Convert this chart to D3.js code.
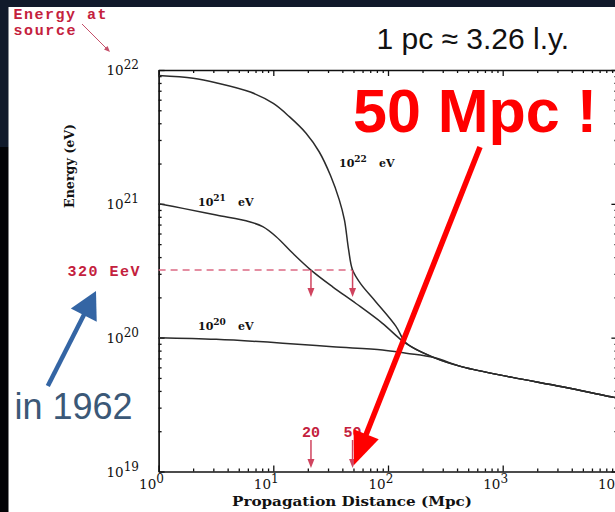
<!DOCTYPE html>
<html><head><meta charset="utf-8">
<script src="https://cdn.jsdelivr.net/npm/d3@7"></script>
<style>html,body{margin:0;padding:0;background:#111a2b;overflow:hidden}</style>
</head><body>
<svg id="c" width="615" height="512"></svg>
<script>
// ---- data ----
const distance22 = [1, 2.0, 3.16, 6.31, 10, 13.8, 19.3, 25.1, 31.6, 37.6, 41.7, 45.3, 49.1, 58.1, 78.5, 117, 144, 252, 445, 1213, 3304, 9333, 10000];
const energy22   = [9.08e21, 8.67e21, 8.04e21, 6.84e21, 5.62e21, 4.48e21, 3.37e21, 2.45e21, 1.62e21, 1.07e21, 7.59e20, 4.57e20, 3.20e20, 2.51e20, 1.85e20, 1.22e20, 9.12e19, 7.10e19, 6.05e19, 5.05e19, 4.30e19, 3.58e19, 3.55e19];
const distance21 = [1, 1.63, 3.18, 6.19, 8.09, 10.6, 14.8, 21.3, 32.9, 52.6, 89.5, 144, 252, 445, 1213, 3304, 9333, 10000];
const energy21   = [1.0e21, 9.25e20, 8.24e20, 7.35e20, 6.75e20, 5.68e20, 4.27e20, 3.20e20, 2.40e20, 1.80e20, 1.28e20, 9.02e19, 7.10e19, 6.05e19, 5.05e19, 4.30e19, 3.58e19, 3.55e19];
const distance20 = [1, 3.18, 12.1, 32.9, 89.5, 144, 252, 445, 1213, 3304, 9333, 10000];
const energy20   = [1.0e20, 9.72e19, 9.10e19, 8.55e19, 8.10e19, 7.65e19, 7.10e19, 6.05e19, 5.05e19, 4.30e19, 3.58e19, 3.55e19];
const curveExponents = ["22", "21", "20"];
const xTickExponents = [0, 1, 2, 3, 4];
const yTickExponents = [19, 20, 21, 22];
const thresholdEnergy = 3.2e20;
const thresholdLabel = "320 EeV";
const markDistances = [21.3, 49.1];
const markLabels = ["20", "50"];

// ---- drawing ----
const svg = d3.select("#c");
svg.append("rect").attr("width", 615).attr("height", 512).attr("fill", "#111a2b");
svg.append("rect").attr("x", 0).attr("y", 147).attr("width", 9).attr("height", 365).attr("fill", "#030306");
svg.append("rect").attr("x", 8.5).attr("y", 7).attr("width", 607).attr("height", 505).attr("fill", "#ffffff");

const x = d3.scaleLog().domain([1, 1e4]).range([158.6, 617.4]);
const y = d3.scaleLog().domain([1e19, 1e22]).range([471.5, 70]);

const xMajor = xTickExponents.map(e => Math.pow(10, e));
const yMajor = yTickExponents.map(e => Math.pow(10, e));
const isPow = v => Math.abs(Math.log10(v) - Math.round(Math.log10(v))) < 1e-9;
const xMinor = x.ticks().filter(v => !isPow(v));
const yMinor = y.ticks().filter(v => !isPow(v));

function styleAxis(g, keepDomain) {
  g.select(".domain").attr("stroke", "#111").attr("stroke-width", 1.7);
  if (!keepDomain) g.select(".domain").remove();
  g.selectAll(".tick line").attr("stroke", "#111").attr("stroke-width", 1.3);
  g.selectAll(".tick text").remove();
}
const axes = [
  [d3.axisBottom(x), xMajor, xMinor, `translate(0,${y(1e19)})`],
  [d3.axisTop(x), xMajor, xMinor, `translate(0,${y(1e22)})`],
  [d3.axisLeft(y), yMajor, yMinor, `translate(${x(1)},0)`],
  [d3.axisRight(y), yMajor, yMinor, `translate(${x(1e4)},0)`]
];
axes.forEach(([ax, maj, min, tr]) => {
  svg.append("g").attr("transform", tr)
    .call(ax.tickValues(maj).tickSize(-6).tickSizeOuter(0).tickFormat(""))
    .call(g => styleAxis(g, true));
  svg.append("g").attr("transform", tr)
    .call(ax.tickValues(min).tickSize(-3).tickSizeOuter(0).tickFormat(""))
    .call(g => styleAxis(g, false));
});

// tick labels with superscripts
const serif = "'DejaVu Serif', serif";
function powLabel(sel, exp, supSize) {
  sel.append("tspan").text("10");
  sel.append("tspan").attr("dy", -6).attr("font-size", supSize).text(exp);
}
xTickExponents.forEach((e, i) => {
  const t = svg.append("text").attr("x", x(xMajor[i]) - 19.5).attr("y", 489)
    .attr("font-family", serif).attr("font-size", 13.5).attr("fill", "#111");
  powLabel(t, String(e), 12);
});
yTickExponents.forEach((e, i) => {
  const t = svg.append("text").attr("x", 139).attr("y", y(yMajor[i]) + 5)
    .attr("text-anchor", "end")
    .attr("font-family", serif).attr("font-size", 13.5).attr("fill", "#111");
  powLabel(t, String(e), 12);
});

// axis titles
svg.append("text").attr("x", 352).attr("y", 506).attr("text-anchor", "middle")
  .attr("font-family", serif).attr("font-weight", "bold").attr("font-size", 13)
  .attr("textLength", 240).attr("lengthAdjust", "spacingAndGlyphs")
  .attr("fill", "#111").text("Propagation Distance (Mpc)");
svg.append("text").attr("transform", "translate(74,166) rotate(-90)").attr("text-anchor", "middle")
  .attr("font-family", serif).attr("font-weight", "bold").attr("font-size", 12.5)
  .attr("textLength", 84).attr("lengthAdjust", "spacingAndGlyphs")
  .attr("fill", "#111").text("Energy (eV)");

// threshold dashed line
svg.append("line")
  .attr("x1", x(1)).attr("x2", x(markDistances[1]))
  .attr("y1", y(thresholdEnergy)).attr("y2", y(thresholdEnergy))
  .attr("stroke", "#dc6a84").attr("stroke-width", 1.5).attr("stroke-dasharray", "7,5");

// curves
const line = d3.line().x(d => x(d[0])).y(d => y(d[1])).curve(d3.curveCatmullRom.alpha(0.5));
const curves = [[distance22, energy22], [distance21, energy21], [distance20, energy20]];
curves.forEach(([ds, es]) => {
  svg.append("path").datum(ds.map((d, i) => [d, es[i]]))
    .attr("d", line).attr("fill", "none").attr("stroke", "#2b2b2b").attr("stroke-width", 1.5);
});

// curve labels
const labelPos = [[339, 167], [198, 206], [198, 330]];
curveExponents.forEach((e, i) => {
  const [lx, ly] = labelPos[i];
  const t = svg.append("text").attr("x", lx).attr("y", ly)
    .attr("font-family", serif).attr("font-weight", "bold").attr("font-size", 11).attr("fill", "#111");
  t.append("tspan").text("10");
  t.append("tspan").attr("dy", -5).attr("font-size", 9).text(e);
  svg.append("text").attr("x", lx + 40).attr("y", ly)
    .attr("font-family", serif).attr("font-weight", "bold").attr("font-size", 11).attr("fill", "#111").text("eV");
});

// arrow helper
function arrow(x1, y1, x2, y2, headLen, halfW, sw, color) {
  const dx = x2 - x1, dy = y2 - y1, L = Math.hypot(dx, dy);
  const ux = dx / L, uy = dy / L;
  const bx = x2 - ux * headLen, by = y2 - uy * headLen;
  svg.append("line").attr("x1", x1).attr("y1", y1).attr("x2", bx + ux * 1).attr("y2", by + uy * 1)
    .attr("stroke", color).attr("stroke-width", sw);
  svg.append("polygon")
    .attr("points", [[x2, y2], [bx - uy * halfW, by + ux * halfW], [bx + uy * halfW, by - ux * halfW]].map(p => p.join(",")).join(" "))
    .attr("fill", color);
}

// small red arrows
const red = "#c4213d";
const mono = "'Liberation Mono', monospace";
markDistances.forEach((d, i) => {
  const mx = x(d);
  arrow(mx, y(thresholdEnergy), mx, y(thresholdEnergy) + 27, 9, 3.5, 1.5, "#d0445f");
  arrow(mx, 440, mx, 468, 9, 3.5, 1.5, "#d0445f");
  svg.append("text").attr("x", mx).attr("y", 437).attr("text-anchor", "middle")
    .attr("font-family", mono).attr("font-weight", "bold").attr("font-size", 15)
    .attr("fill", red).text(markLabels[i]);
});

svg.append("text").attr("x", 67.5).attr("y", 276).attr("font-family", mono).attr("font-weight", "bold")
  .attr("font-size", 15).attr("textLength", 72).attr("lengthAdjust", "spacing").attr("fill", red).text(thresholdLabel);
svg.append("text").attr("x", 13.5).attr("y", 18.5).attr("font-family", mono).attr("font-weight", "bold")
  .attr("font-size", 15).attr("textLength", 93).attr("lengthAdjust", "spacing").attr("fill", red).text("Energy at");
svg.append("text").attr("x", 13.5).attr("y", 35).attr("font-family", mono).attr("font-weight", "bold")
  .attr("font-size", 15).attr("textLength", 62).attr("lengthAdjust", "spacing").attr("fill", red).text("source");
arrow(82, 24, 110, 52, 6, 2.5, 1, "#c5506a");

// big annotations
const sans = "'Liberation Sans', Arial, sans-serif";
svg.append("text").attr("x", 376.5).attr("y", 48.5).attr("font-family", sans).attr("font-size", 30)
  .attr("fill", "#111").text("1 pc \u2248 3.26 l.y.");
svg.append("text").attr("x", 353).attr("y", 132).attr("font-family", sans).attr("font-weight", "bold")
  .attr("font-size", 61).attr("fill", "#ff0000").text("50 Mpc !");
svg.append("text").attr("x", 14.5).attr("y", 419).attr("font-family", sans).attr("font-size", 36)
  .attr("fill", "#3b5877").text("in 1962");

arrow(47.8, 386, 96, 291, 27, 14.5, 4.5, "#3465a4");
arrow(480, 147, 354, 465, 33, 13.5, 5.5, "#ff0000");
</script>
</body></html>
